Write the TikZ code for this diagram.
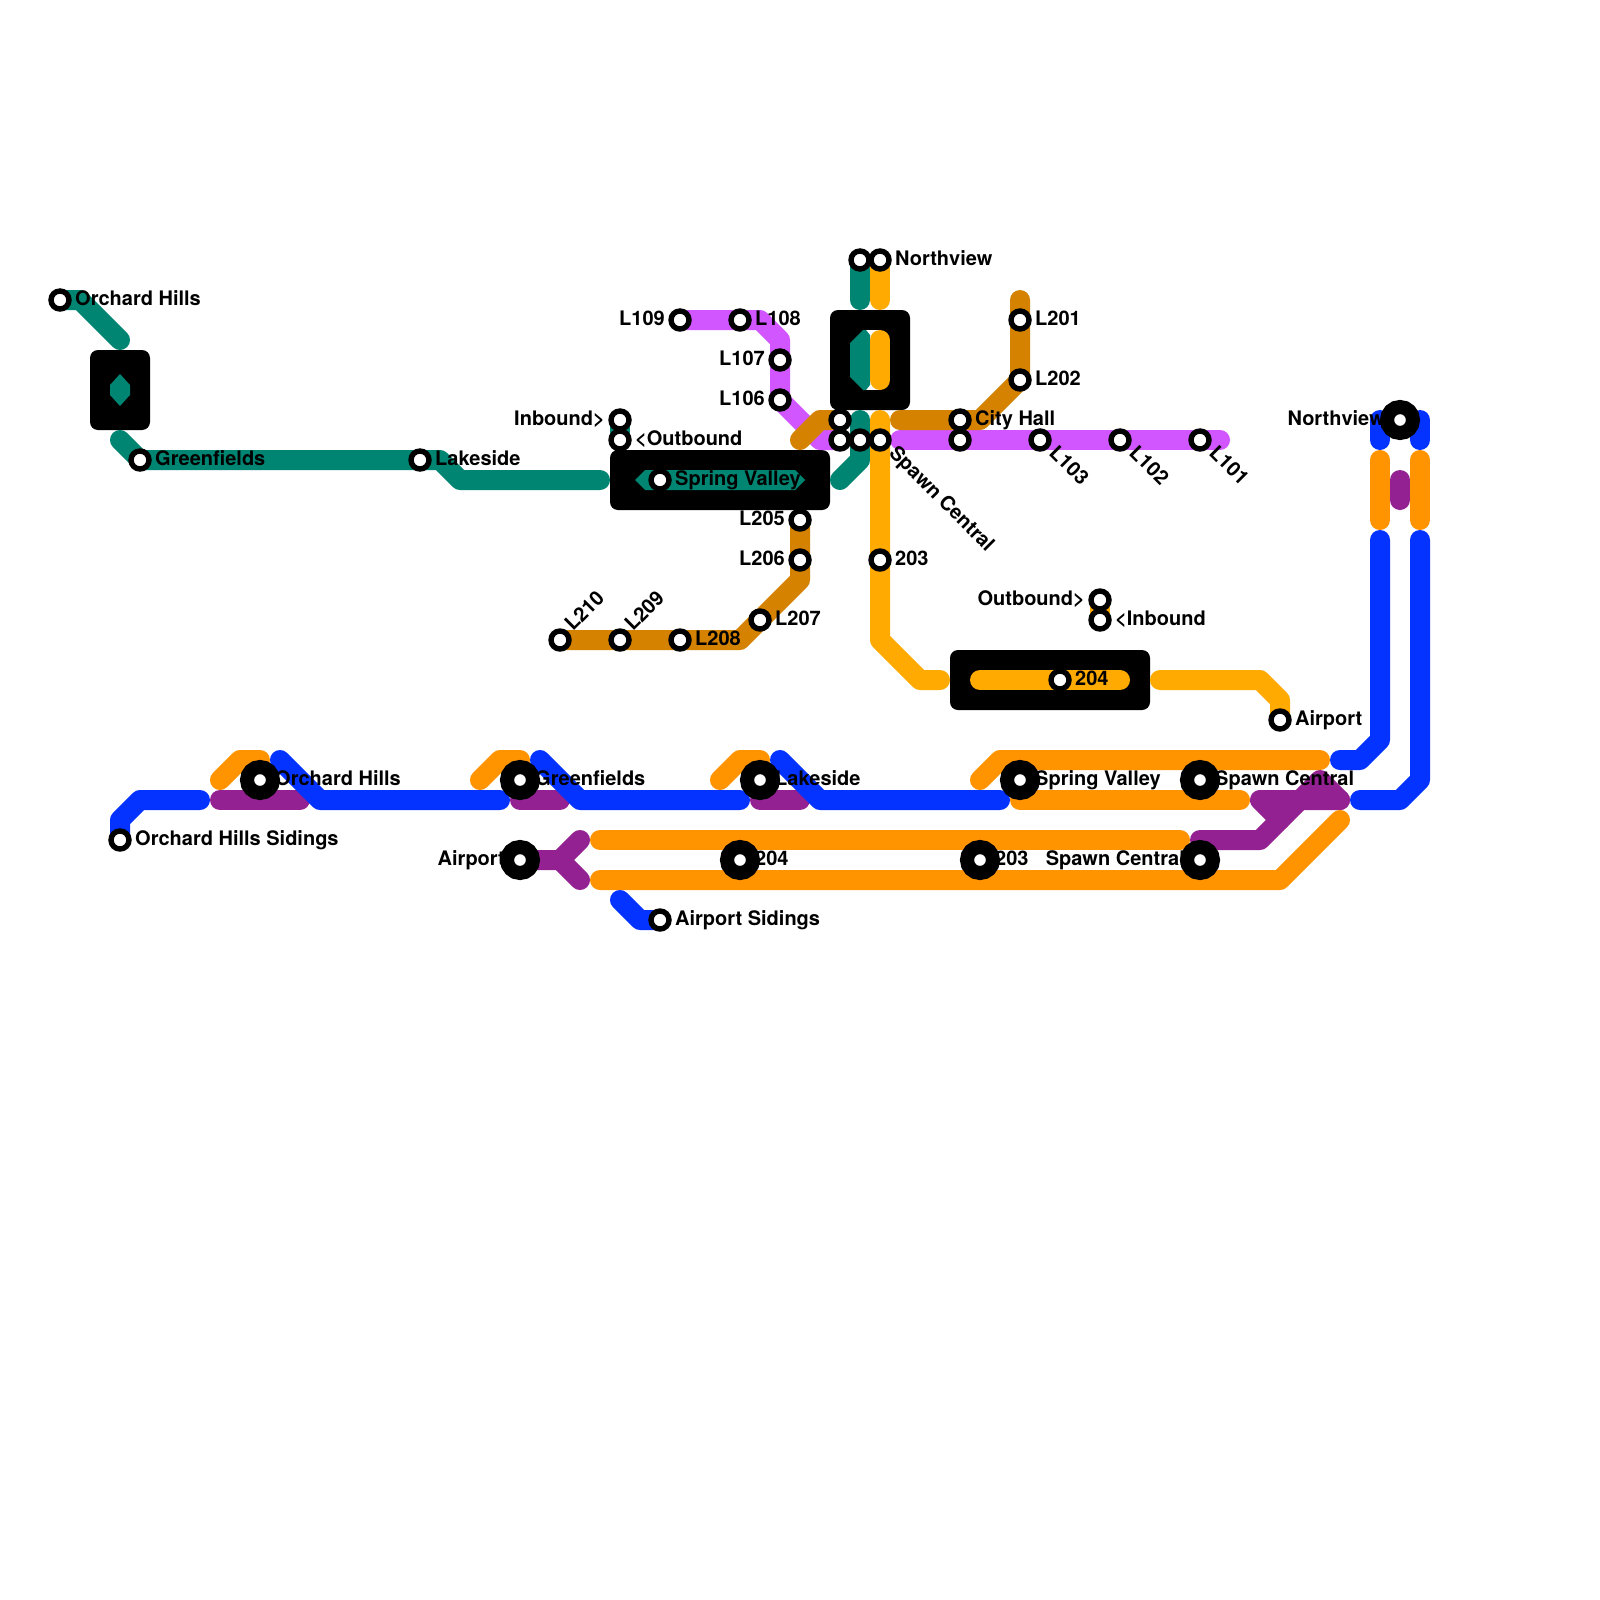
\documentclass[tikz,border=0pt]{standalone}
\usepackage{fontspec}
\setmainfont{TeX Gyre Heros}
\definecolor{teal}{HTML}{008573}
\definecolor{gold}{HTML}{FFAA00}
\definecolor{amber}{HTML}{FF9300}
\definecolor{ochre}{HTML}{D48200}
\definecolor{orchid}{HTML}{D156FF}
\definecolor{plum}{HTML}{942192}
\definecolor{azure}{HTML}{0433FF}
\tikzset{
  route/.style={line width=20pt,line cap=round,line join=round},
  hub/.style={fill=black,rounded corners=8pt},
  stn/.style={circle,draw=black,fill=white,line width=5.4pt,minimum size=18pt,inner sep=0pt},
  bigstn/.style={circle,draw=black,fill=white,line width=14pt,minimum size=26pt,inner sep=0pt},
  txt/.style={font=\fontsize{20}{24}\selectfont\bfseries,inner sep=0pt,text=black},
  lr/.style={txt,anchor=base west,xshift=15pt,yshift=-5pt},
  ll/.style={txt,anchor=base east,xshift=-15pt,yshift=-5pt},
  rd/.style={txt,anchor=base west,xshift=8pt,yshift=-14pt,rotate=-45},
  ru/.style={txt,anchor=base west,xshift=13pt,yshift=8pt,rotate=45},
}
\begin{document}
\begin{tikzpicture}[x=1pt,y=-1pt]
\path[use as bounding box,fill=white] (0,0) rectangle (1600,1600);
% station positions
\foreach \n/\x/\y in {
 a1/60/300,a2/140/460,a3/420/460,a4/620/420,a5/620/440,a6/660/480,
 b1/680/320,b2/740/320,b3/780/360,b4/780/400,
 c1/860/260,c2/880/260,c3/840/420,c4/840/440,c5/860/440,c6/880/440,
 d1/960/420,d2/960/440,d3/1040/440,d4/1120/440,d5/1200/440,
 e1/1020/320,e2/1020/380,
 f1/800/520,f2/800/560,f3/760/620,f4/680/640,f5/620/640,f6/560/640,
 g1/880/560,g2/1100/600,g3/1100/620,g4/1060/680,g5/1280/720,
 h1/120/840,h2/660/920,
 k1/1400/420,k2/260/780,k3/520/780,k4/760/780,k5/1020/780,k6/1200/780,
 k7/520/860,k8/740/860,k9/980/860,k10/1200/860}
 {\coordinate (\n) at (\x,\y);}
% hub boxes
\fill[hub] (90,350) rectangle (150,430);
\fill[hub] (610,450) rectangle (830,510);
\fill[hub] (830,310) rectangle (910,410);
\fill[hub] (950,650) rectangle (1150,710);
\fill[white] (865,330) rectangle (880,390);
% orchid line
\draw[route,orchid] (b1) -- (b2) -- (760,320) -- (780,340) -- (b3) -- (b4) -- (820,440) -- (c4);
\draw[route,orchid] (900,440) -- (d2) -- (d3) -- (d4) -- (d5) -- (1220,440);
% ochre line
\draw[route,ochre] (800,440) -- (820,420) -- (c3);
\draw[route,ochre] (900,420) -- (d1) -- (980,420) -- (e2) -- (e1) -- (1020,300);
\draw[route,ochre] (f1) -- (f2) -- (800,580) -- (740,640) -- (f4) -- (f5) -- (f6);
% teal line
\draw[route,teal] (a1) -- (80,300) -- (120,340);
\fill[teal] (120,374) -- (130,385) -- (130,395) -- (120,406) -- (110,395) -- (110,385) -- cycle;
\draw[route,teal] (120,440) -- (a2) -- (a3) -- (440,460) -- (460,480) -- (600,480);
\draw[route,teal] (a4) -- (a5);
\fill[teal] (635,480) -- (645,470) -- (795,470) -- (805,480) -- (795,490) -- (645,490) -- cycle;
\draw[route,teal] (840,480) -- (860,460) -- (c5) -- (860,420);
\draw[route,teal] (c1) -- (860,300);
\fill[teal] (850,343) -- (863,330) -- (866,330) -- (870,335) -- (870,385) -- (866,390) -- (863,390) -- (850,377) -- cycle;
% gold line
\draw[route,gold] (c2) -- (880,300);
\draw[route,gold] (880,340) -- (880,380);
\draw[route,gold] (880,420) -- (c6) -- (g1) -- (880,640) -- (920,680) -- (940,680);
\draw[route,gold] (980,680) -- (g4) -- (1120,680);
\draw[route,gold] (1160,680) -- (1260,680) -- (1280,700) -- (g5);
\draw[route,gold] (g2) -- (g3);
% plum line
\draw[route,plum] (220,800) -- (300,800);
\draw[route,plum] (520,800) -- (560,800);
\draw[route,plum] (760,800) -- (800,800);
\draw[route,plum] (k7) -- (560,860) -- (580,840);
\draw[route,plum] (560,860) -- (580,880);
\draw[route,plum] (1400,480) -- (1400,500);
\draw[route,plum] (1280,820) -- (1260,800) -- (1340,800);
\draw[route,plum] (1200,840) -- (1260,840) -- (1320,780) -- (1340,800);
% amber line
\draw[route,amber] (220,780) -- (240,760) -- (260,760);
\draw[route,amber] (480,780) -- (500,760) -- (520,760);
\draw[route,amber] (720,780) -- (740,760) -- (760,760);
\draw[route,amber] (980,780) -- (1000,760) -- (1320,760);
\draw[route,amber] (1020,800) -- (1240,800);
\draw[route,amber] (600,840) -- (1180,840);
\draw[route,amber] (600,880) -- (1280,880) -- (1340,820);
\draw[route,amber] (1380,460) -- (1380,520);
\draw[route,amber] (1420,460) -- (1420,520);
% azure line
\draw[route,azure] (h1) -- (120,820) -- (140,800) -- (200,800);
\draw[route,azure] (280,760) -- (320,800) -- (500,800);
\draw[route,azure] (540,760) -- (580,800) -- (740,800);
\draw[route,azure] (780,760) -- (820,800) -- (1000,800);
\draw[route,azure] (620,900) -- (640,920) -- (h2);
\draw[route,azure] (1340,760) -- (1360,760) -- (1380,740) -- (1380,540);
\draw[route,azure] (1360,800) -- (1400,800) -- (1420,780) -- (1420,540);
\draw[route,azure] (1380,420) -- (1380,440);
\draw[route,azure] (1420,420) -- (1420,440);
% stations
\foreach \n in {a1,a2,a3,a4,a5,a6,b1,b2,b3,b4,c1,c2,c3,c4,c5,c6,d1,d2,d3,d4,d5,e1,e2,f1,f2,f3,f4,f5,f6,g1,g2,g3,g4,g5,h1,h2}
 {\node[stn] (s\n) at (\n) {};}
\foreach \n in {k1,k2,k3,k4,k5,k6,k7,k8,k9,k10}
 {\node[bigstn] (s\n) at (\n) {};}
% labels
\node[lr] (t1) at (a1) {Orchard Hills};
\node[lr] (t2) at (a2) {Greenfields};
\node[lr] (t3) at (a3) {Lakeside};
\node[ll] (t4) at (a4) {Inbound>};
\node[lr] (t5) at (a5) {<Outbound};
\node[lr] (t6) at (a6) {Spring Valley};
\node[ll] (t7) at (b1) {L109};
\node[lr] (t8) at (b2) {L108};
\node[ll] (t9) at (b3) {L107};
\node[ll] (t10) at (b4) {L106};
\node[lr] (t11) at (c2) {Northview};
\node[lr] (t12) at (d1) {City Hall};
\node[lr] (t13) at (e1) {L201};
\node[lr] (t14) at (e2) {L202};
\node[rd] (t15) at (d3) {L103};
\node[rd] (t16) at (d4) {L102};
\node[rd] (t17) at (d5) {L101};
\node[rd] (t18) at (c6) {Spawn Central};
\node[ll] (t19) at (f1) {L205};
\node[ll] (t20) at (f2) {L206};
\node[lr] (t21) at (f3) {L207};
\node[lr] (t22) at (f4) {L208};
\node[ru] (t23) at (f5) {L209};
\node[ru] (t24) at (f6) {L210};
\node[lr] (t25) at (g1) {203};
\node[ll] (t26) at (g2) {Outbound>};
\node[lr] (t27) at (g3) {<Inbound};
\node[lr] (t28) at (g4) {204};
\node[lr] (t29) at (g5) {Airport};
\node[ll] (t30) at (k1) {Northview};
\node[lr] (t31) at (k2) {Orchard Hills};
\node[lr] (t32) at (k3) {Greenfields};
\node[lr] (t33) at (k4) {Lakeside};
\node[lr] (t34) at (k5) {Spring Valley};
\node[lr] (t35) at (k6) {Spawn Central};
\node[lr] (t36) at (h1) {Orchard Hills Sidings};
\node[ll] (t37) at (k7) {Airport};
\node[lr] (t38) at (k8) {204};
\node[lr] (t39) at (k9) {203};
\node[ll] (t40) at (k10) {Spawn Central};
\node[lr] (t41) at (h2) {Airport Sidings};
\end{tikzpicture}
\end{document}
